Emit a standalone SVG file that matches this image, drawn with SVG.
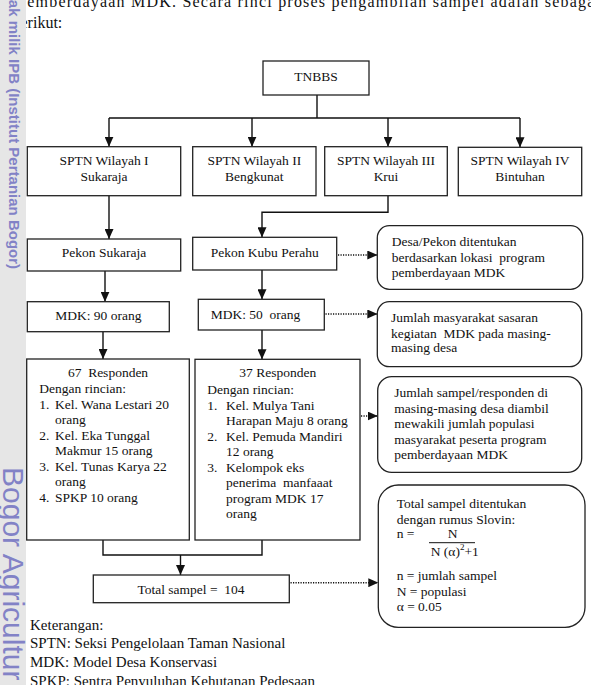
<svg xmlns="http://www.w3.org/2000/svg" width="591" height="685" viewBox="0 0 591 685">
<style>
text{font-family:"Liberation Serif","Times New Roman",serif;font-size:13.5px;fill:#111}
.c{text-anchor:middle}
.body{font-size:16px}
.leg{font-size:15px}
.box{fill:#fff;stroke:#222;stroke-width:1.3}
.ln{fill:none;stroke:#111;stroke-width:1.4}
.dot{fill:none;stroke:#111;stroke-width:1.5;stroke-dasharray:1.2 1.3}
.wm{font-family:"Liberation Sans",Arial,sans-serif;fill:#8282c6}
.wm1{font-size:15px;font-weight:bold}
.wm2{font-size:30px}
</style>
<defs>
<marker id="ah" markerUnits="userSpaceOnUse" markerWidth="10" markerHeight="9" refX="10" refY="4.5" orient="auto">
<path d="M0,0 L10,4.5 L0,9 z" fill="#111"/>
</marker>
</defs>
<rect width="591" height="685" fill="#fff"/>

<!-- top body text -->
<text class="body" x="18" y="7" textLength="582" lengthAdjust="spacing">pemberdayaan MDK. Secara rinci proses pengambilan sampel adalah sebagai</text>
<text class="body" x="12.5" y="28">berikut:</text>

<!-- watermark strip -->
<rect x="0" y="0" width="26" height="685" fill="#e6e6e6"/>
<text class="wm wm1" transform="translate(9,-11) rotate(90)">Hak milik IPB (Institut Pertanian Bogor)</text>
<text class="wm wm2" transform="translate(3,467) rotate(90)">Bogor Agricultur</text>

<!-- connectors -->
<g id="connectors">
<path class="ln" d="M317,95 V118 M109,118 H520"/>
<path class="ln" d="M109,118 V146.7" marker-end="url(#ah)"/>
<path class="ln" d="M252,118 V146.7" marker-end="url(#ah)"/>
<path class="ln" d="M388,118 V146.7" marker-end="url(#ah)"/>
<path class="ln" d="M520,118 V147.3" marker-end="url(#ah)"/>
<path class="ln" d="M109,195.7 V239" marker-end="url(#ah)"/>
<path class="ln" d="M105,271 V301.7" marker-end="url(#ah)"/>
<path class="ln" d="M103,331.7 V359" marker-end="url(#ah)"/>
<path class="ln" d="M388,195.7 V212.3 H262 V237.3" marker-end="url(#ah)"/>
<path class="ln" d="M262,270 V299.3" marker-end="url(#ah)"/>
<path class="ln" d="M262,330 V359.3" marker-end="url(#ah)"/>
<path class="ln" d="M103,540 V555 H262 V540"/>
<path class="ln" d="M180.5,555 V575" marker-end="url(#ah)"/>
<path class="dot" d="M338,255 H377.3" marker-end="url(#ah)"/>
<path class="dot" d="M325.5,314 H377.3" marker-end="url(#ah)"/>
<path class="dot" d="M361,416 H377.7" marker-end="url(#ah)"/>
<path class="dot" d="M290.5,582.7 H378.3" marker-end="url(#ah)"/>
</g>

<g id="tnbbs">
<rect class="box" x="263" y="61" width="106" height="34"/>
<text class="c" x="316" y="81">TNBBS</text>
</g>
<g id="sptn1">
<rect class="box" x="27.3" y="146.7" width="153.4" height="49"/>
<text class="c" x="104" y="165">SPTN Wilayah I</text>
<text class="c" x="104" y="180.7">Sukaraja</text>
</g>
<g id="sptn2">
<rect class="box" x="192.7" y="146.7" width="123.3" height="49"/>
<text class="c" x="254.3" y="165">SPTN Wilayah II</text>
<text class="c" x="254.3" y="180.7">Bengkunat</text>
</g>
<g id="sptn3">
<rect class="box" x="324.7" y="146.7" width="122.6" height="49"/>
<text class="c" x="386" y="165">SPTN Wilayah III</text>
<text class="c" x="386" y="180.7">Krui</text>
</g>
<g id="sptn4">
<rect class="box" x="458.3" y="147.3" width="123.4" height="48.4"/>
<text class="c" x="520" y="165">SPTN Wilayah IV</text>
<text class="c" x="520" y="180.7">Bintuhan</text>
</g>
<g id="pekon-sukaraja">
<rect class="box" x="27.3" y="239" width="153.4" height="32"/>
<text class="c" x="104" y="257.3">Pekon Sukaraja</text>
</g>
<g id="pekon-kubu">
<rect class="box" x="192.7" y="237.3" width="144" height="32.7"/>
<text x="210.7" y="256.7">Pekon Kubu Perahu</text>
</g>
<g id="mdk90">
<rect class="box" x="27.3" y="301.7" width="142" height="30"/>
<text class="c" x="98.3" y="320">MDK: 90 orang</text>
</g>
<g id="mdk50">
<rect class="box" x="198.3" y="299.3" width="126" height="30.7"/>
<text x="210.7" y="318.5">MDK: 50 &#160;orang</text>
</g>
<g id="resp67">
<rect class="box" x="26.7" y="359" width="162.6" height="181"/>
<text class="c" x="108" y="377.3">67 &#160;Responden</text>
<text x="39.3" y="393">Dengan rincian:</text>
<text x="39.3" y="408.5">1.</text><text x="55" y="408.5">Kel. Wana Lestari 20</text>
<text x="55" y="424">orang</text>
<text x="39.3" y="439.5">2.</text><text x="55" y="439.5">Kel. Eka Tunggal</text>
<text x="55" y="455">Makmur 15 orang</text>
<text x="39.3" y="470.5">3.</text><text x="55" y="470.5">Kel. Tunas Karya 22</text>
<text x="55" y="486">orang</text>
<text x="39.3" y="501.5">4.</text><text x="55" y="501.5">SPKP 10 orang</text>
</g>
<g id="resp37">
<rect class="box" x="195" y="359.3" width="165" height="180.7"/>
<text x="239.3" y="377.3">37 Responden</text>
<text x="207.3" y="394">Dengan rincian:</text>
<text x="207.3" y="409.5">1.</text><text x="226" y="409.5">Kel. Mulya Tani</text>
<text x="226" y="425">Harapan Maju 8 orang</text>
<text x="207.3" y="440.5">2.</text><text x="226" y="440.5">Kel. Pemuda Mandiri</text>
<text x="226" y="456">12 orang</text>
<text x="207.3" y="471.5">3.</text><text x="226" y="471.5">Kelompok eks</text>
<text x="226" y="487">penerima &#160;manfaaat</text>
<text x="226" y="502.5">program MDK 17</text>
<text x="226" y="518">orang</text>
</g>
<g id="total">
<rect class="box" x="93.3" y="575" width="196" height="27.7"/>
<text class="c" x="191" y="594">Total sampel = &#160;104</text>
</g>
<g id="note1">
<rect class="box" x="377.3" y="225.7" width="205.4" height="63.6" rx="12"/>
<text x="391.7" y="245.7">Desa/Pekon ditentukan</text>
<text x="391.7" y="261.5">berdasarkan lokasi &#160;program</text>
<text x="391.7" y="277">pemberdayaan MDK</text>
</g>
<g id="note2">
<rect class="box" x="377.3" y="301.7" width="204.4" height="65" rx="12"/>
<text x="391" y="321.7">Jumlah masyarakat sasaran</text>
<text x="391" y="337.5">kegiatan &#160;MDK pada masing-</text>
<text x="391" y="352">masing desa</text>
</g>
<g id="note3">
<rect class="box" x="377.7" y="376.7" width="204" height="95.6" rx="14"/>
<text x="394.3" y="397.3">Jumlah sampel/responden di</text>
<text x="394.3" y="412.8">masing-masing desa diambil</text>
<text x="394.3" y="428.3">mewakili jumlah populasi</text>
<text x="394.3" y="443.8">masyarakat peserta program</text>
<text x="394.3" y="459.3">pemberdayaan MDK</text>
</g>
<g id="note4">
<rect class="box" x="378.3" y="485" width="206.7" height="142.3" rx="20"/>
<text x="396.7" y="508.3">Total sampel ditentukan</text>
<text x="396.7" y="524.3">dengan rumus Slovin:</text>
<text x="396.7" y="538.3">n =</text>
<text class="c" x="452.5" y="538.3">N</text>
<line x1="429" y1="542.7" x2="475" y2="542.7" stroke="#111" stroke-width="1"/>
<text x="430.7" y="556">N (α)<tspan font-size="9" dy="-6">2</tspan><tspan dy="6">+1</tspan></text>
<text x="396.7" y="580">n = jumlah sampel</text>
<text x="396.7" y="595.5">N = populasi</text>
<text x="396.7" y="611">α = 0.05</text>
</g>

<!-- legend -->
<g id="legend">
<text class="leg" x="30" y="630">Keterangan:</text>
<text class="leg" x="30" y="648.3">SPTN: Seksi Pengelolaan Taman Nasional</text>
<text class="leg" x="30" y="666.7">MDK: Model Desa Konservasi</text>
<text class="leg" x="30" y="685.5">SPKP: Sentra Penyuluhan Kehutanan Pedesaan</text>
</g>
</svg>
